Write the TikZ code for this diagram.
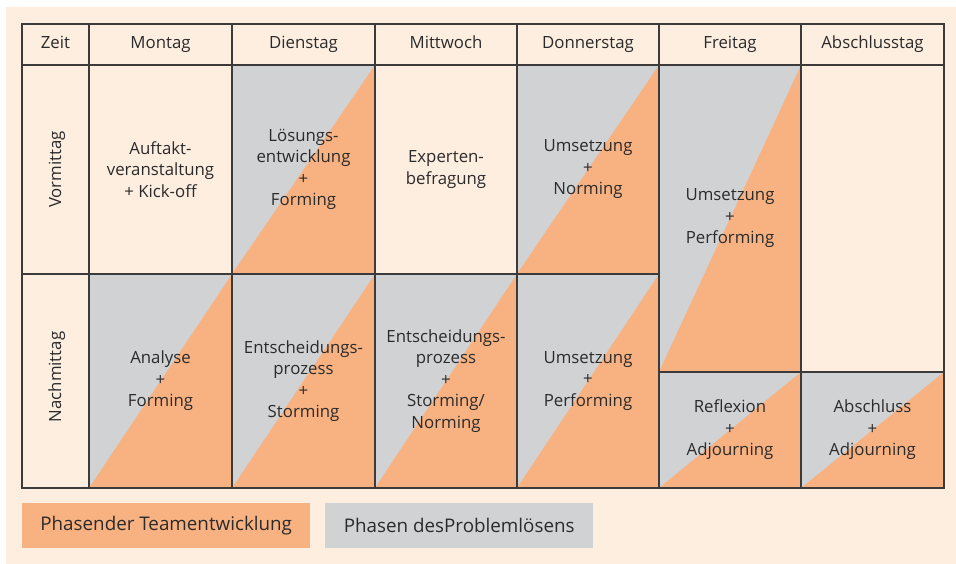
\documentclass[tikz,border=0pt]{standalone}
\usepackage{fontspec}
\setmainfont{Open Sans}
\definecolor{panel}{HTML}{FDEEE0}
\definecolor{team}{HTML}{F8B282}
\definecolor{problem}{HTML}{D1D2D4}
\definecolor{rule}{HTML}{3C3A3A}
\definecolor{ink}{HTML}{2B2B2B}
\begin{document}
\begin{tikzpicture}[x=1pt,y=-1pt,
    cell/.style={align=center,text=ink,inner sep=0pt,font=\fontsize{16.8}{21.5}\selectfont},
    head/.style={cell,text height=12pt,text depth=4pt},
    legend/.style={cell,minimum height=45pt,anchor=north west,font=\fontsize{18.8}{22}\selectfont},
    grid/.style={draw=rule,line width=1.2pt}]
  \useasboundingbox (0,0) rectangle (956,564);
  \fill[panel] (6,7) rectangle (956,564);
  % halb Problemloesen, halb Teamentwicklung
  \foreach \xa/\ya/\xb/\yb in {232/65/375/274, 517/65/659/274, 659/65/801/372,
      89/274/232/488, 232/274/375/488, 375/274/517/488, 517/274/659/488,
      659/372/801/488, 801/372/944/488}{
    \fill[problem] (\xa,\ya) rectangle (\xb,\yb);
    \fill[team] (\xa,\yb) -- (\xb,\yb) -- (\xb,\ya) -- cycle;
  }
  % Raster
  \draw[grid] (22,24) rectangle (944,488);
  \draw[grid] (22,65) -- (944,65);
  \draw[grid] (22,274) -- (659,274);
  \draw[grid] (659,372) -- (944,372);
  \foreach \x in {89,232,375,517,659,801}
    \draw[grid] (\x,24) -- (\x,488);
  % Kopfzeile
  \node[head](zeit) at (55.5,44.5) {Zeit};
  \node[head](mo) at (160.5,44.5) {Montag};
  \node[head](di) at (303.5,44.5) {Dienstag};
  \node[head](mi) at (446,44.5) {Mittwoch};
  \node[head](do) at (588,44.5) {Donnerstag};
  \node[head](fr) at (730,44.5) {Freitag};
  \node[head](ab) at (872.5,44.5) {Abschlusstag};
  \node[head,rotate=90](vm) at (57,169.5) {Vormittag};
  \node[head,rotate=90](nm) at (57,377) {Nachmittag};
  % Vormittag
  \node[cell](mo1) at (160.5,169.5) {Auftakt-\\veranstaltung\\+ Kick-off};
  \node[cell](di1) at (303.5,169.5) {Lösungs-\\entwicklung\\+\\Forming};
  \node[cell](mi1) at (446,169.5) {Experten-\\befragung};
  \node[cell](do1) at (588,169.5) {Umsetzung\\+\\Norming};
  \node[cell](fr1) at (730,218.5) {Umsetzung\\+\\Performing};
  % Nachmittag
  \node[cell](mo2) at (160.5,381) {Analyse\\+\\Forming};
  \node[cell](di2) at (303.5,381) {Entscheidungs-\\prozess\\+\\Storming};
  \node[cell](mi2) at (446,381) {Entscheidungs-\\prozess\\+\\Storming/\\Norming};
  \node[cell](do2) at (588,381) {Umsetzung\\+\\Performing};
  \node[cell](fr2) at (730,430) {Reflexion\\+\\Adjourning};
  \node[cell](ab2) at (872.5,430) {Abschluss\\+\\Adjourning};
  % Legende
  \node[legend,fill=team,minimum width=288pt](lteam) at (22,503) {Phasender Teamentwicklung};
  \node[legend,fill=problem,minimum width=268pt](lprob) at (325,503) {Phasen desProblemlösens};
\end{tikzpicture}
\end{document}
